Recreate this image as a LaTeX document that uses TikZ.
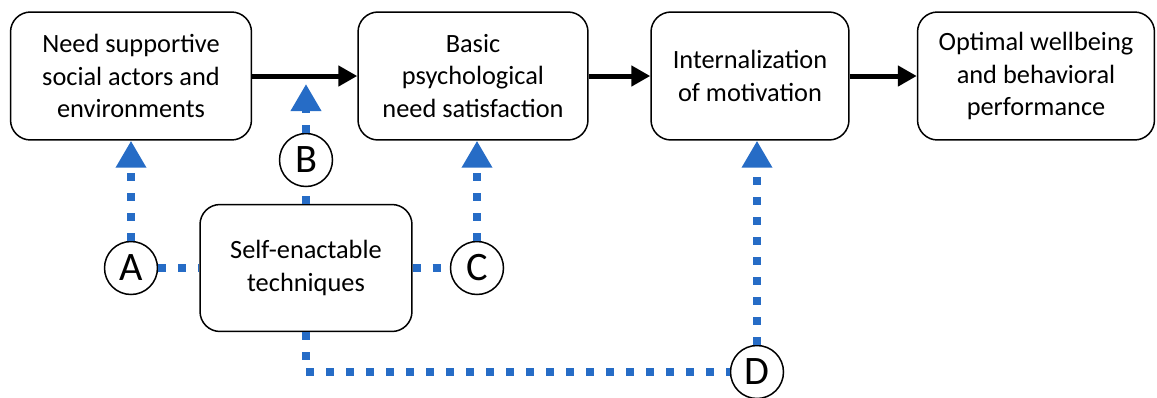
\documentclass[tikz,border=0pt]{standalone}
\usepackage{fontspec}
\setmainfont{Carlito}
\usetikzlibrary{arrows.meta}
\definecolor{dotblue}{RGB}{38,108,198}
\newcommand{\tsize}{\fontsize{15}{18.3}\selectfont}
\tikzset{
  box/.style={draw,rounded corners=0.4cm,line width=0.03cm,align=center,
    minimum height=2.56cm,inner sep=2pt,font=\tsize},
  lbl/.style={draw,circle,line width=0.03cm,minimum size=1.06cm,inner sep=0pt,
    font=\fontsize{23}{23}\selectfont},
  flow/.style={line width=0.1cm,-{Triangle[width=0.4cm,length=0.38cm]}},
  dotline/.style={dotblue,line width=0.15cm,dash pattern=on 0.16cm off 0.24cm},
  dotarrow/.style={dotline,-{Triangle[width=0.58cm,length=0.54cm]}}
}
\begin{document}
\begin{tikzpicture}[x=0.02cm,y=-0.02cm]
  \useasboundingbox (0,0) rectangle (1157,397);
  % main chain
  \node[box,minimum width=4.82cm] (need) at (131,76) {Need supportive\\social actors and\\environments};
  \node[box,minimum width=4.6cm] (basic) at (473,76) {Basic\\psychological\\need satisfaction};
  \node[box,minimum width=3.96cm] (intern) at (750,76) {Internalization\\of motivation};
  \node[box,minimum width=4.74cm] (wellb) at (1036,76) {Optimal wellbeing\\and behavioral\\performance};
  \draw[flow] (need) -- (basic);
  \draw[flow] (basic) -- (intern);
  \draw[flow] (intern) -- (wellb);
  % techniques
  \node[box,minimum width=4.24cm,minimum height=2.54cm] (tech) at (306,268) {Self-enactable\\techniques};
  \node[lbl] (A) at (131,268) {A};
  \node[lbl] (B) at (306,160) {B};
  \node[lbl] (C) at (477,268) {C};
  \node[lbl] (D) at (757,372) {D};
  \coordinate (btip) at (306,84);
  \draw[dotline] (A) -- (tech);
  \draw[dotarrow] (A) -- (need);
  \draw[dotline] (tech) -- (B);
  \draw[dotarrow] (B) -- (btip);
  \draw[dotline] (tech) -- (C);
  \draw[dotarrow] (C) -- (C |- basic.south);
  \draw[dotline] (tech) |- (D);
  \draw[dotarrow] (D) -- (D |- intern.south);
\end{tikzpicture}
\end{document}
